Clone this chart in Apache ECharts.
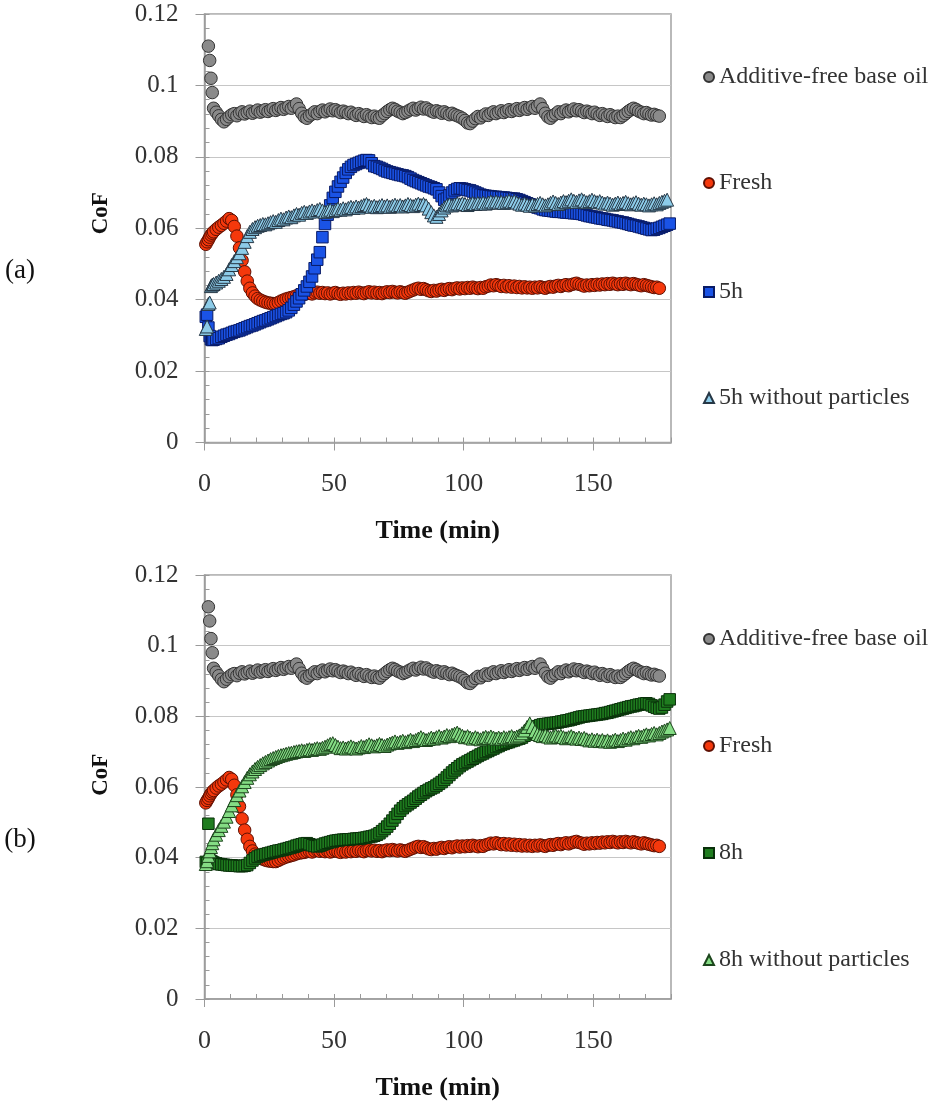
<!DOCTYPE html>
<html>
<head>
<meta charset="utf-8">
<script src="https://cdn.jsdelivr.net/npm/echarts@6/dist/echarts.min.js"></script>
<style>
html,body{margin:0;padding:0;background:#fff;}
#chart{width:933px;height:1102px;}
</style>
</head>
<body>
<div id="chart"></div>
<script>
// Time (min) of each sample
const timeMin = [
0.5,1,1.5,2,2.5,3,3.5,
4.5,5.5,6.5,7.5,8.5,9.5,10.5,11.5,12.5,13.5,
14.5,15.5,16.5,17.5,18.5,19.5,20.5,21.5,22.5,23.5,
24.5,25.5,26.5,27.5,28.5,29.5,30.5,31.5,32.5,33.5,
34.5,35.5,36.5,37.5,38.5,39.5,40.5,41.5,42.5,43.5,
44.5,45.5,46.5,47.5,48.5,49.5,50.5,51.5,52.5,53.5,
54.5,55.5,56.5,57.5,58.5,59.5,60.5,61.5,62.5,63.5,
64.5,65.5,66.5,67.5,68.5,69.5,70.5,71.5,72.5,73.5,
74.5,75.5,76.5,77.5,78.5,79.5,80.5,81.5,82.5,83.5,
84.5,85.5,86.5,87.5,88.5,89.5,90.5,91.5,92.5,93.5,
94.5,95.5,96.5,97.5,98.5,99.5,100.5,101.5,102.5,103.5,
104.5,105.5,106.5,107.5,108.5,109.5,110.5,111.5,112.5,113.5,
114.5,115.5,116.5,117.5,118.5,119.5,120.5,121.5,122.5,123.5,
124.5,125.5,126.5,127.5,128.5,129.5,130.5,131.5,132.5,133.5,
134.5,135.5,136.5,137.5,138.5,139.5,140.5,141.5,142.5,143.5,
144.5,145.5,146.5,147.5,148.5,149.5,150.5,151.5,152.5,153.5,
154.5,155.5,156.5,157.5,158.5,159.5,160.5,161.5,162.5,163.5,
164.5,165.5,166.5,167.5,168.5,169.5,170.5,171.5,172.5,173.5,
174.5,175.5,176.5,177.5,178.5,179.5
];

const baseOil = [
null,null,0.111,0.107,0.102,0.098,0.0936,
0.0925,0.0915,0.0905,0.0898,0.0905,0.0912,0.0918,0.0921,0.0915,0.0922,
0.0926,0.092,0.0924,0.0928,0.0922,0.0926,0.0931,0.0925,0.0928,0.0932,
0.0927,0.0931,0.0935,0.093,0.0934,0.0938,0.0933,0.0937,0.0941,0.0936,
0.0942,0.0948,0.0935,0.0922,0.0912,0.0908,0.0915,0.092,0.0926,0.0921,
0.0927,0.0931,0.0926,0.093,0.0934,0.0929,0.0932,0.0928,0.0924,0.0928,
0.0925,0.0921,0.0925,0.092,0.0916,0.0921,0.0917,0.0913,0.0918,0.0914,
0.091,0.0914,0.091,0.0908,0.0915,0.0921,0.0927,0.0932,0.0936,0.0933,
0.0928,0.0925,0.0921,0.0924,0.0928,0.0932,0.0936,0.0931,0.0935,0.0939,
0.0934,0.0937,0.0932,0.0928,0.0925,0.0929,0.0926,0.0922,0.0926,0.0922,
0.0918,0.0922,0.0918,0.0915,0.0912,0.0908,0.0902,0.0895,0.0893,0.09,
0.0907,0.0913,0.0909,0.0915,0.092,0.0916,0.0922,0.0926,0.0921,0.0925,
0.0929,0.0924,0.0928,0.0932,0.0927,0.0931,0.0935,0.093,0.0934,0.0938,
0.0933,0.0937,0.0941,0.0936,0.0942,0.0948,0.0935,0.0922,0.0912,0.0908,
0.0915,0.092,0.0926,0.0921,0.0927,0.0931,0.0926,0.093,0.0934,0.0929,
0.0932,0.0928,0.0924,0.0928,0.0925,0.0921,0.0925,0.092,0.0916,0.0921,
0.0917,0.0913,0.0918,0.0914,0.091,0.0914,0.091,0.0915,0.0921,0.0927,
0.0932,0.0936,0.0933,0.0928,0.0925,0.0921,0.0924,0.092,0.0917,0.0919,
0.0916,0.0914
];

const fresh = [
0.0555,0.0562,0.0568,0.0575,0.0581,0.0586,0.059,
0.0597,0.0603,0.0608,0.0614,0.062,0.0627,0.0622,0.0605,0.0578,0.0545,
0.051,0.0478,0.0452,0.0432,0.0419,0.041,0.0403,0.0399,0.0396,0.0393,
0.0391,0.039,0.0389,0.0389,0.0392,0.0396,0.0399,0.0402,0.0404,0.0406,
0.0408,0.0411,0.0413,0.0414,0.0415,0.0417,0.0418,0.0416,0.0419,0.0421,
0.0418,0.042,0.0417,0.0419,0.0416,0.0418,0.042,0.0417,0.0415,0.0418,
0.0416,0.0419,0.0417,0.042,0.0418,0.0421,0.0419,0.0417,0.042,0.0422,
0.0419,0.0421,0.0418,0.042,0.0417,0.042,0.0422,0.042,0.0423,0.0421,
0.0419,0.0422,0.042,0.0418,0.0421,0.0424,0.0427,0.043,0.0432,0.0429,
0.0431,0.0428,0.0425,0.0423,0.0426,0.0424,0.0427,0.0429,0.0426,0.0429,
0.0431,0.0428,0.0431,0.0433,0.043,0.0433,0.0431,0.0434,0.0432,0.0435,
0.0433,0.0431,0.0434,0.0432,0.0436,0.0438,0.0441,0.0439,0.0442,0.044,
0.0437,0.044,0.0436,0.0439,0.0435,0.0438,0.0434,0.0437,0.0433,0.0436,
0.0433,0.0435,0.0432,0.0435,0.0433,0.0436,0.0434,0.0432,0.0435,0.0437,
0.0435,0.0438,0.044,0.0437,0.044,0.0442,0.0439,0.0442,0.0444,0.0446,
0.0443,0.0441,0.0438,0.0441,0.0439,0.0442,0.044,0.0443,0.0441,0.0444,
0.0442,0.0445,0.0443,0.0446,0.0444,0.0442,0.0445,0.0443,0.0446,0.0444,
0.0442,0.0445,0.0443,0.0441,0.0439,0.0442,0.044,0.0438,0.0436,0.0434,
0.0435,0.0432
];

const aged5h = [
0.0352,0.0358,0.0322,0.0298,0.0289,0.0287,0.0288,
0.029,0.0292,0.0296,0.0299,0.0302,0.0304,0.0307,0.031,0.0312,0.0314,
0.0317,0.032,0.0323,0.0326,0.0328,0.0331,0.0334,0.0337,0.034,0.0342,
0.0345,0.0348,0.0351,0.0354,0.0357,0.036,0.0362,0.0365,0.037,0.0377,
0.0386,0.0395,0.0404,0.0415,0.0426,0.0437,0.045,0.0465,0.0488,0.0512,
0.0533,0.0575,0.0612,0.0638,0.0664,0.0685,0.0702,0.0717,0.073,0.0742,
0.0755,0.0765,0.0772,0.0777,0.078,0.0783,0.0786,0.0789,0.0791,0.079,
0.0782,0.0774,0.0772,0.0769,0.0766,0.0762,0.0759,0.0757,0.0755,0.0753,
0.0751,0.0749,0.0748,0.0746,0.0743,0.0739,0.0735,0.0732,0.0729,0.0726,
0.0723,0.072,0.0717,0.0715,0.0712,0.0709,0.07,0.069,0.068,0.0683,
0.0692,0.07,0.0706,0.071,0.0712,0.0711,0.0709,0.0707,0.0706,0.0703,
0.07,0.0697,0.0694,0.0692,0.0691,0.069,0.0689,0.0688,0.0688,0.0687,
0.0686,0.0686,0.0685,0.0684,0.0683,0.0683,0.0681,0.0679,0.0676,0.0673,
0.067,0.0667,0.0664,0.0661,0.0658,0.0656,0.0653,0.0651,0.065,0.0649,
0.0648,0.0647,0.0646,0.0646,0.0645,0.0644,0.0644,0.0643,0.0642,0.0642,
0.0641,0.064,0.0638,0.0636,0.0634,0.0633,0.0631,0.063,0.0628,0.0627,
0.0626,0.0624,0.0623,0.0622,0.062,0.0619,0.0617,0.0616,0.0614,0.0612,
0.061,0.0608,0.0607,0.0605,0.0603,0.0601,0.0599,0.0597,0.0595,0.0596,
0.0599,0.0601,0.0604,0.0607,0.061,0.0613
];

const aged5hNoPart = [
0.0318,0.0325,0.0388,0.0392,0.0438,0.0442,0.0444,
0.0448,0.0453,0.0458,0.0464,0.0472,0.0485,0.0497,0.0508,0.0519,0.053,
0.0545,0.0562,0.0578,0.059,0.0598,0.0603,0.0607,0.0609,0.0612,0.0611,
0.0614,0.0617,0.062,0.0618,0.0623,0.0627,0.0625,0.063,0.0633,0.0631,
0.0636,0.064,0.0638,0.0643,0.0646,0.0643,0.0647,0.065,0.0647,0.0651,
0.0654,0.065,0.0646,0.0649,0.0652,0.0648,0.0651,0.0655,0.0652,0.0656,
0.0653,0.0657,0.066,0.0657,0.0661,0.0658,0.0662,0.0665,0.0668,0.0664,
0.066,0.0663,0.0659,0.0662,0.0665,0.0661,0.0664,0.066,0.0663,0.0666,
0.0662,0.0665,0.0661,0.0664,0.0668,0.0665,0.0662,0.0666,0.0669,0.0665,
0.0668,0.0664,0.0655,0.0645,0.0636,0.0632,0.064,0.065,0.0658,0.0664,
0.0667,0.0664,0.0667,0.067,0.0667,0.067,0.0668,0.0665,0.0668,0.0671,
0.0668,0.0671,0.0669,0.0672,0.0669,0.0672,0.0675,0.0672,0.0675,0.0672,
0.0674,0.0671,0.0674,0.0677,0.0673,0.0676,0.0672,0.0669,0.0666,0.0669,
0.0666,0.0663,0.0667,0.0664,0.0668,0.0671,0.0667,0.0664,0.0667,0.0671,
0.0675,0.0671,0.0668,0.0672,0.0676,0.0673,0.0677,0.0681,0.0677,0.0674,
0.0678,0.0681,0.0677,0.0673,0.0676,0.068,0.0676,0.0673,0.0676,0.0672,
0.0669,0.0672,0.0669,0.0666,0.0669,0.0672,0.0668,0.0671,0.0674,0.067,
0.0667,0.067,0.0673,0.0669,0.0666,0.0669,0.0667,0.0664,0.0667,0.067,
0.0667,0.0671,0.0674,0.0677,0.068
];

const aged8h = [
0.0388,0.0385,0.0496,0.0392,0.039,0.0388,0.0386,
0.0384,0.0382,0.0381,0.038,0.0379,0.0378,0.0378,0.0377,0.0377,0.0376,
0.0376,0.0377,0.0379,0.0385,0.0392,0.0398,0.0403,0.0406,0.0408,0.041,
0.0412,0.0414,0.0416,0.0418,0.042,0.0421,0.0423,0.0425,0.0427,0.0429,
0.0431,0.0434,0.0436,0.0438,0.044,0.0441,0.0438,0.0435,0.0433,0.0432,
0.0434,0.0437,0.044,0.0442,0.0444,0.0446,0.0448,0.0449,0.045,0.0451,
0.0451,0.0452,0.0452,0.0453,0.0454,0.0454,0.0455,0.0456,0.0457,0.0459,
0.046,0.0462,0.0465,0.0469,0.0475,0.0481,0.0488,0.0496,0.0505,0.0514,
0.0524,0.0533,0.054,0.0546,0.0551,0.0556,0.0561,0.0567,0.0573,0.0578,
0.0583,0.0588,0.0592,0.0596,0.0599,0.0604,0.0609,0.0614,0.062,0.0627,
0.0634,0.0641,0.0647,0.0653,0.0659,0.0664,0.0668,0.0672,0.0676,0.068,
0.0684,0.0688,0.0692,0.0695,0.0699,0.0702,0.0706,0.0709,0.0713,0.0716,
0.072,0.0722,0.0725,0.0727,0.073,0.0732,0.0735,0.0737,0.074,0.0745,
0.0752,0.0759,0.0765,0.0769,0.0772,0.0775,0.0777,0.0778,0.0779,0.078,
0.0781,0.0782,0.0783,0.0785,0.0786,0.0788,0.0789,0.0791,0.0793,0.0795,
0.0797,0.0799,0.08,0.0801,0.0802,0.0803,0.0804,0.0805,0.0806,0.0807,
0.0809,0.081,0.0812,0.0814,0.0816,0.0818,0.082,0.0822,0.0824,0.0826,
0.0828,0.0829,0.0831,0.0833,0.0834,0.0836,0.0837,0.0835,0.0831,0.0827,
0.0824,0.0822,0.0825,0.0833,0.0842,0.0848
];

const aged8hNoPart = [
0.0382,0.039,0.0405,0.0418,0.043,0.0441,0.0452,
0.0465,0.0478,0.049,0.0502,0.0516,0.0532,0.0548,0.0563,0.0577,0.059,
0.0602,0.0614,0.0626,0.0636,0.0644,0.0651,0.0657,0.0662,0.0667,0.0671,
0.0675,0.0679,0.0682,0.0685,0.0688,0.069,0.0692,0.0694,0.0696,0.0697,
0.0699,0.0701,0.0702,0.0704,0.0702,0.0705,0.0707,0.0705,0.0708,0.071,
0.0708,0.0711,0.0714,0.0718,0.0722,0.0724,0.0719,0.0714,0.071,0.0712,
0.0709,0.0712,0.0715,0.0712,0.0709,0.0712,0.0716,0.0713,0.0717,0.0721,
0.0718,0.0715,0.0718,0.0722,0.0719,0.0716,0.072,0.0723,0.0726,0.0729,
0.0725,0.0728,0.0731,0.0727,0.073,0.0734,0.073,0.0733,0.0737,0.0741,
0.0737,0.0733,0.0736,0.074,0.0737,0.0741,0.0744,0.074,0.0743,0.0747,
0.0744,0.0748,0.0751,0.0754,0.0749,0.0745,0.0741,0.0744,0.074,0.0737,
0.0741,0.0738,0.0735,0.0739,0.0742,0.0739,0.0743,0.074,0.0737,0.074,
0.0737,0.0741,0.0738,0.0741,0.0744,0.074,0.0743,0.0746,0.0752,0.076,
0.077,0.078,0.077,0.0758,0.075,0.0747,0.0744,0.0747,0.0743,0.074,
0.0743,0.0746,0.0742,0.0745,0.0741,0.0738,0.0741,0.0744,0.074,0.0737,
0.074,0.0736,0.0739,0.0735,0.0732,0.0735,0.0731,0.0734,0.073,0.0733,
0.0729,0.0732,0.0728,0.0731,0.0734,0.073,0.0733,0.0737,0.0734,0.0738,
0.0741,0.0738,0.0742,0.0745,0.0742,0.0746,0.0749,0.0746,0.075,0.0753,
0.0749,0.0753,0.0757,0.076,0.0763,0.0767
];

const xTicks = {min: 0, max: 180, interval: 50};
const yTicks = {min: 0, max: 0.12, interval: 0.02};
const panelLabels = ['(a)', '(b)'];
const panelSeries = [
  [['Additive-free base oil', baseOil, 'base'], ['Fresh', fresh, 'fresh'], ['5h', aged5h, 'h5'], ['5h without particles', aged5hNoPart, 'h5np']],
  [['Additive-free base oil', baseOil, 'base'], ['Fresh', fresh, 'fresh'], ['8h', aged8h, 'h8'], ['8h without particles', aged8hNoPart, 'h8np']]
];

const STY = {
  base:  {symbol: 'circle',   size: 12.5, color: '#8a8a8a', border: '#333333'},
  fresh: {symbol: 'circle',   size: 12.5, color: '#f5380c', border: '#5e1003'},
  h5:    {symbol: 'rect',     size: 11.5, color: '#1a53e6', border: '#081a66'},
  h5np:  {symbol: 'triangle', size: 13,   color: '#8ccbe8', border: '#263745'},
  h8:    {symbol: 'rect',     size: 11.5, color: '#1f7d1f', border: '#09300a'},
  h8np:  {symbol: 'triangle', size: 13,   color: '#84dc84', border: '#1c451c'}
};

const FONT = 'Liberation Serif, Times New Roman, serif';
const GRIDS = [
  {left: 204.5, top: 14, width: 466.5, height: 428.5},
  {left: 204.5, top: 575, width: 466.5, height: 429.5}
];
const legendCenters = [[72, 178, 287, 393], [634, 741, 848, 955]];

function pts(vals) {
  const out = [];
  for (let i = 0; i < vals.length; i++) {
    if (vals[i] !== null) out.push([timeMin[i], vals[i]]);
  }
  return out;
}

const grid = [], xAxis = [], yAxis = [], series = [], legend = [], graphic = [];
GRIDS.forEach((g, gi) => {
  grid.push(Object.assign({show: true, borderColor: '#a3a3a3', borderWidth: 1.5, backgroundColor: '#fff'}, g));
  xAxis.push({
    type: 'value', gridIndex: gi, min: xTicks.min, max: xTicks.max, interval: xTicks.interval,
    name: 'Time (min)', nameLocation: 'middle', nameGap: 76,
    nameTextStyle: {fontFamily: FONT, fontWeight: 'bold', fontSize: 26, color: '#111'},
    axisLine: {show: true, lineStyle: {color: '#9a9a9a', width: 1.5}},
    axisTick: {show: true, length: 8, lineStyle: {color: '#9a9a9a', width: 1}},
    axisLabel: {fontFamily: FONT, fontSize: 26, color: '#333', margin: 29, showMaxLabel: false},
    splitLine: {show: false}
  });
  xAxis.push({
    type: 'value', gridIndex: gi, min: 0, max: 180, interval: 10, position: 'bottom',
    axisLine: {show: false},
    axisTick: {show: true, inside: true, length: 5, lineStyle: {color: '#9a9a9a'}},
    axisLabel: {show: false}, splitLine: {show: false}
  });
  yAxis.push({
    type: 'value', gridIndex: gi, min: yTicks.min, max: yTicks.max, interval: yTicks.interval, position: 'left',
    axisLine: {show: true, lineStyle: {color: '#9a9a9a', width: 1.5}},
    axisTick: {show: true, length: 9, lineStyle: {color: '#9a9a9a'}},
    axisLabel: {fontFamily: FONT, fontSize: 25, color: '#333', margin: 26},
    splitLine: {show: true, lineStyle: {color: '#c6c6c6', width: 1.2}}
  });
  yAxis.push({
    type: 'value', gridIndex: gi, min: 0, max: 0.12, interval: 0.004, position: 'left',
    axisLine: {show: false},
    axisTick: {show: true, inside: true, length: 5, lineStyle: {color: '#9a9a9a'}},
    axisLabel: {show: false}, splitLine: {show: false}
  });
  panelSeries[gi].forEach((s, si) => {
    const st = STY[s[2]];
    series.push({
      type: 'scatter', name: s[0], xAxisIndex: gi * 2, yAxisIndex: gi * 2,
      data: pts(s[1]), symbol: st.symbol, symbolSize: st.size,
      itemStyle: {color: st.color, borderColor: st.border, borderWidth: 1, opacity: 1},
      emphasis: {disabled: true}, z: 2 + si
    });
    legend.push({
      data: [s[0]], orient: 'vertical', left: 698, top: legendCenters[gi][si] - 12,
      itemWidth: 10, itemHeight: 10, selectedMode: false,
      textStyle: {fontFamily: FONT, fontSize: 24, color: '#333'}
    });
  });
  const midY = g.top + g.height / 2;
  graphic.push({
    type: 'text', x: 101, y: midY - 15, rotation: Math.PI / 2,
    style: {text: 'CoF', font: 'bold 23px ' + FONT, fill: '#111', align: 'center', verticalAlign: 'middle'}
  });
  graphic.push({
    type: 'text', x: 20, y: gi === 0 ? 271 : 840,
    style: {text: panelLabels[gi], font: '27px ' + FONT, fill: '#111', align: 'center', verticalAlign: 'middle'}
  });
});

const chart = echarts.init(document.getElementById('chart'), null, {renderer: 'canvas'});
chart.setOption({
  backgroundColor: '#fff',
  animation: false,
  grid, xAxis, yAxis, series, legend, graphic
});
</script>
</body>
</html>
